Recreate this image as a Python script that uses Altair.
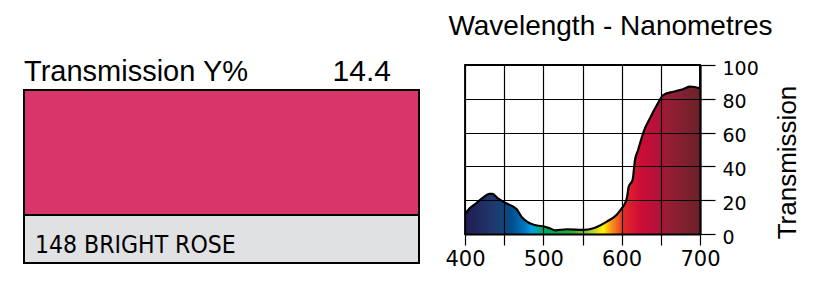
import altair as alt
import pandas as pd

# ---- data ----
wavelength = [400, 406, 415, 423, 431, 435, 442, 453, 466, 472, 479, 489, 502, 508, 515,
              530, 551, 564, 581, 594, 600, 604, 607, 609, 614, 617, 621, 628, 636, 645,
              653, 666, 679, 687, 693, 700]
transmission = [11.8, 15.2, 18.5, 21.5, 23.7, 23.7, 21.1, 18.1, 14.6, 10.3, 7.3, 5.3, 4.3, 3.4, 2.2,
                2.8, 2.4, 3.4, 7.3, 11.6, 15.2, 17.8, 22.0, 28.0, 32.0, 43.8, 49.7, 60.5, 68.4, 76.3,
                82.2, 84.2, 85.8, 87.2, 87.0, 86.2]

x_ticks = [400, 450, 500, 550, 600, 650, 700]
y_ticks = [0, 20, 40, 60, 80, 100]

spectrum_nm = [400, 438, 460, 477, 485, 498, 507, 536, 558, 571, 577, 585, 596, 604, 625, 645, 660, 680, 700]
spectrum_col = ["#201c52", "#1f3a6e", "#004f8f", "#0078c0", "#00a0e0", "#00a878", "#00a650",
                "#2ea836", "#9cc83c", "#e8e31a", "#fff200", "#f7a11a", "#ef5a24", "#e3262b",
                "#cc0c36", "#b5123a", "#951e34", "#7f2030", "#6a2227"]

x_title = "Wavelength - Nanometres"
y_title = "Transmission"
label_left = "Transmission Y%"
y_value = "14.4"
filter_name = "148 BRIGHT ROSE"
swatch_color = "#d8366a"
name_bg = "#e0e1e3"

df = pd.DataFrame({"nm": wavelength, "t": transmission})
one = pd.DataFrame({"k": [0]})

FONT = "Liberation Sans, Arial, Helvetica, sans-serif"
AXFONT = "DejaVu Sans, Verdana, sans-serif"

W, H = 235, 169
lo, hi = min(x_ticks), max(x_ticks)
grad = alt.Gradient(
    gradient="linear",
    stops=[alt.GradientStop(offset=(n - lo) / (hi - lo), color=c) for n, c in zip(spectrum_nm, spectrum_col)],
    x1=0, x2=1, y1=0, y2=0,
)

xs = alt.Scale(domain=[lo, hi], nice=False)
ys = alt.Scale(domain=[0, 100], nice=False)

xaxis = alt.Axis(values=x_ticks, tickCount=len(x_ticks), grid=True, gridColor="black", gridWidth=1.2,
                 gridOpacity=1, tickColor="black", tickWidth=1.2, tickSize=11, domainColor="black",
                 domainWidth=2.2, labelExpr="datum.value % 100 == 0 ? datum.label : ''", labelFont=AXFONT,
                 labelFontSize=21, labelColor="black", labelPadding=3, labelFlush=False,
                 labelOverlap=False, title=None, zindex=1)
yaxis = alt.Axis(orient="right", values=y_ticks, tickCount=len(y_ticks), grid=True, gridColor="black",
                 gridWidth=1.2, gridOpacity=1, tickColor="black", tickWidth=1.2, tickSize=15,
                 domainColor="black", domainWidth=2.2, labelFont=AXFONT, labelFontSize=19,
                 labelColor="black", labelPadding=7, labelOffset=3, labelFlush=False, labelOverlap=False,
                 title=y_title, titleAngle=270, titleFont=FONT, titleFontSize=26, titleFontWeight="normal",
                 titleColor="black", titleX=95, titleY=97, titleAlign="center", titleBaseline="alphabetic",
                 zindex=1)

area = alt.Chart(df).mark_area(color=grad, interpolate="monotone").encode(
    x=alt.X("nm:Q", scale=xs, axis=xaxis),
    y=alt.Y("t:Q", scale=ys, axis=yaxis),
)
line = alt.Chart(df).mark_line(color="black", strokeWidth=2.2, interpolate="monotone").encode(
    x=alt.X("nm:Q", scale=xs, axis=xaxis),
    y=alt.Y("t:Q", scale=ys, axis=yaxis),
)

base = alt.Chart(one)
swatch = base.mark_rect(color=swatch_color, stroke="black", strokeWidth=2).encode(
    x=alt.value(-441), x2=alt.value(-46), y=alt.value(25), y2=alt.value(150))
namebox = base.mark_rect(color=name_bg, stroke="black", strokeWidth=2).encode(
    x=alt.value(-441), x2=alt.value(-46), y=alt.value(150), y2=alt.value(198))
t_label = base.mark_text(font=FONT, fontSize=29, align="left", baseline="alphabetic", color="black").encode(
    x=alt.value(-441), y=alt.value(16), text=alt.value(label_left))
t_value = base.mark_text(font=FONT, fontSize=30, align="right", baseline="alphabetic", color="black").encode(
    x=alt.value(-74), y=alt.value(16), text=alt.value(y_value))
t_name = base.mark_text(font="Liberation Sans Narrow, DejaVu Sans Condensed, Arial Narrow, sans-serif",
                        fontSize=24.5, align="left", baseline="alphabetic", color="black").encode(
    x=alt.value(-430), y=alt.value(188), text=alt.value(filter_name))
t_title = base.mark_text(font=FONT, fontSize=28, align="center", baseline="alphabetic", color="black").encode(
    x=alt.value(145.5), y=alt.value(-30), text=alt.value(x_title))

chart = alt.layer(area, line, swatch, namebox, t_label, t_value, t_name, t_title).properties(
    width=W, height=H,
    autosize=alt.AutoSizeParams(type="none"),
    padding={"left": 465, "top": 65, "right": 127, "bottom": 49},
    background="white",
).configure_view(stroke="black", strokeWidth=1.8)

chart.save("out.html", embed_options={"renderer": "svg", "actions": False})
